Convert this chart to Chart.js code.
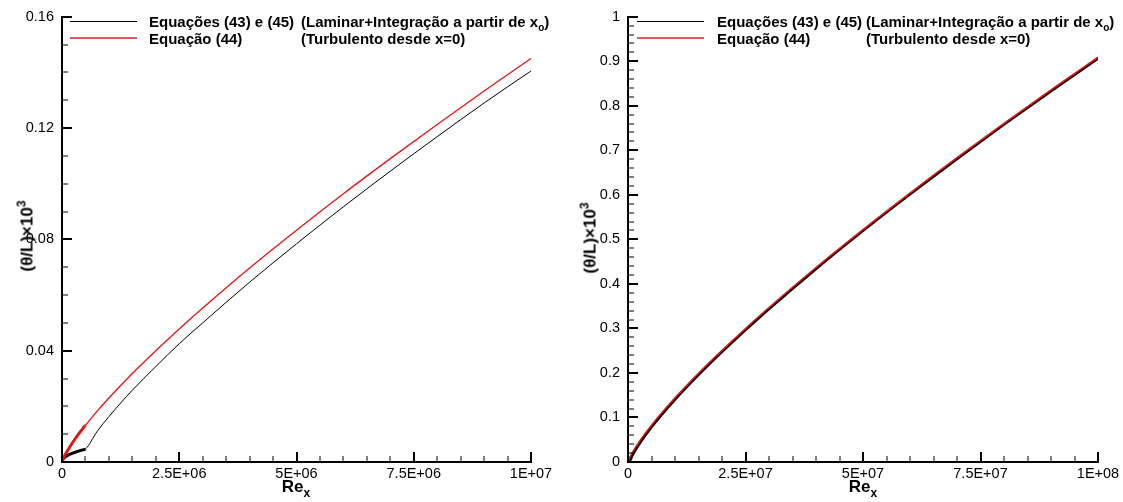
<!DOCTYPE html>
<html>
<head>
<meta charset="utf-8">
<script src="https://cdn.jsdelivr.net/npm/chart.js@4.4.1/dist/chart.umd.min.js"></script>
<style>
  body { margin: 0; background: #fff; font-family: "Liberation Sans", Arial, sans-serif; }
  #wrap { position: relative; width: 1123px; height: 502px; overflow: hidden; }
  canvas { position: absolute; top: 0; }
  .legend { position: absolute; font-weight: bold; font-size: 15px; color: #000; white-space: nowrap; line-height: 17px; }
  .swatch { position: absolute; height: 0; }
  .xtitle { position: absolute; font-weight: bold; font-size: 17px; transform: translateX(-50%); }
  .xtitle sub { font-size: 12px; vertical-align: -5px; }
  .ytitle { position: absolute; font-weight: bold; font-size: 17px; white-space: nowrap; transform: translate(-50%, -50%) rotate(-90deg); }
  .ytitle sup { font-size: 12px; vertical-align: 7px; }
</style>
</head>
<body>
<div id="wrap">
  <canvas id="leftChart" width="561" height="502" style="left:0"></canvas>
  <canvas id="rightChart" width="562" height="502" style="left:561px"></canvas>

  <!-- legends -->
  <div class="swatch" style="left:70px;top:21px;width:67px;border-top:1px solid #000"></div>
  <div class="swatch" style="left:70px;top:37px;width:67px;border-top:2px solid #e85858"></div>
  <div class="legend" style="left:149px;top:13px">Equações (43) e (45)</div>
  <div class="legend" style="left:301px;top:13px">(Laminar+Integração a partir de x<sub style="font-size:10px">o</sub>)</div>
  <div class="legend" style="left:149px;top:30px">Equação (44)</div>
  <div class="legend" style="left:301px;top:30px">(Turbulento desde x=0)</div>

  <div class="swatch" style="left:637px;top:21px;width:67px;border-top:1px solid #000"></div>
  <div class="swatch" style="left:637px;top:37px;width:67px;border-top:2px solid #e85858"></div>
  <div class="legend" style="left:717px;top:13px">Equações (43) e (45)</div>
  <div class="legend" style="left:866px;top:13px">(Laminar+Integração a partir de x<sub style="font-size:10px">o</sub>)</div>
  <div class="legend" style="left:717px;top:30px">Equação (44)</div>
  <div class="legend" style="left:866px;top:30px">(Turbulento desde x=0)</div>

  <!-- axis titles -->
  <div class="xtitle" style="left:296px;top:477px">Re<sub>x</sub></div>
  <div class="xtitle" style="left:863px;top:477px">Re<sub>x</sub></div>
  <div class="ytitle" style="left:26px;top:236px">(θ/L)×10<sup>3</sup></div>
  <div class="ytitle" style="left:589px;top:238px">(θ/L)×10<sup>3</sup></div>
</div>

<script>
// ---- data ----
// left panel: Re_x up to 1E+07
const leftTurbRe = [0, 5e4, 1e5, 2e5, 3e5, 4e5, 5e5, 7.5e5, 1e6, 1.5e6, 2e6, 2.5e6, 3e6, 4e6, 5e6, 6e6, 7e6, 8e6, 9e6, 1e7];
const leftTurb = [0, 0.0021, 0.0036, 0.0063, 0.0088, 0.0111, 0.0132, 0.0183, 0.0230, 0.0318, 0.0400, 0.0478, 0.0553, 0.0697, 0.0833, 0.0964, 0.1090, 0.1213, 0.1333, 0.1450];
const leftLamRe = [0, 2e4, 5e4, 1e5, 2e5, 3e5, 4e5, 5e5, 7.5e5, 1e6, 1.5e6, 2e6, 2.5e6, 3e6, 4e6, 5e6, 6e6, 7e6, 8e6, 9e6, 1e7];
const leftLam = [0, 0.0010, 0.0016, 0.0022, 0.0030, 0.0036, 0.0042, 0.0047, 0.0110, 0.0163, 0.0258, 0.0343, 0.0425, 0.0500, 0.0646, 0.0784, 0.0917, 0.1045, 0.1169, 0.1290, 0.1405];

// right panel: Re_x up to 1E+08
const rightTurbRe = [0, 5e5, 1e6, 2.5e6, 5e6, 1e7, 1.5e7, 2e7, 2.5e7, 3e7, 4e7, 5e7, 6e7, 7e7, 8e7, 9e7, 1e8];
const rightTurb = [0, 0.0131, 0.0228, 0.0475, 0.0827, 0.1441, 0.1993, 0.2508, 0.2999, 0.3470, 0.4367, 0.5220, 0.6040, 0.6834, 0.7604, 0.8356, 0.9090];
const rightLamRe = [0, 1e5, 5e5, 1e6, 2.5e6, 5e6, 1e7, 1.5e7, 2e7, 2.5e7, 3e7, 4e7, 5e7, 6e7, 7e7, 8e7, 9e7, 1e8];
const rightLam = [0, 0.0021, 0.0047, 0.0159, 0.0419, 0.0779, 0.1399, 0.1954, 0.2472, 0.2963, 0.3436, 0.4336, 0.5191, 0.6011, 0.6806, 0.7577, 0.8328, 0.9060];

// tick values / labels
const leftXTicks = [0, 2.5e6, 5e6, 7.5e6, 1e7];
const leftXLabels = ["0", "2.5E+06", "5E+06", "7.5E+06", "1E+07"];
const leftYTicks = [0, 0.04, 0.08, 0.12, 0.16];
const leftYLabels = ["0", "0.04", "0.08", "0.12", "0.16"];
const rightXTicks = [0, 2.5e7, 5e7, 7.5e7, 1e8];
const rightXLabels = ["0", "2.5E+07", "5E+07", "7.5E+07", "1E+08"];
const rightYTicks = [0, 0.1, 0.2, 0.3, 0.4, 0.5, 0.6, 0.7, 0.8, 0.9, 1];
const rightYLabels = ["0", "0.1", "0.2", "0.3", "0.4", "0.5", "0.6", "0.7", "0.8", "0.9", "1"];

const RED = "#e31414";

Chart.defaults.font.family = '"Liberation Sans", Arial, sans-serif';
Chart.defaults.font.size = 14.5;
Chart.defaults.color = "#000";

function toPoints(xs, ys) {
  return xs.map((x, i) => ({ x: x, y: ys[i] }));
}

// inward tick marks on the left and bottom axes (majors long, minors short)
function tickMarks(p) {
  return {
    id: "tickMarks",
    afterDatasetsDraw(chart) {
      const { ctx, chartArea, scales } = chart;
      ctx.save();
      ctx.strokeStyle = "#000";
      const draw = (vals, len, width, isX) => {
        ctx.lineWidth = width;
        vals.forEach((v) => {
          ctx.beginPath();
          if (isX) {
            const px = Math.round(scales.x.getPixelForValue(v));
            ctx.moveTo(px, chartArea.bottom);
            ctx.lineTo(px, chartArea.bottom - len);
          } else {
            const py = Math.round(scales.y.getPixelForValue(v));
            ctx.moveTo(chartArea.left, py);
            ctx.lineTo(chartArea.left + len, py);
          }
          ctx.stroke();
        });
      };
      const minorX = [], minorY = [];
      const nx = Math.round(p.xMax / p.xStep), ny = Math.round(p.yMax / p.yStep);
      for (let i = 1; i <= nx; i++) minorX.push(i * p.xStep);
      for (let i = 1; i <= ny; i++) minorY.push(i * p.yStep);
      draw(minorX, 6, 1, true);
      draw(minorY, 6, 1, false);
      draw(p.xTicks, 10, 2, true);
      draw(p.yTicks, 10, 2, false);
      ctx.restore();
    },
  };
}

function makeChart(id, p) {
  const ctx = document.getElementById(id).getContext("2d");
  return new Chart(ctx, {
    type: "line",
    data: {
      datasets: [
        {
          data: toPoints(p.lamRe, p.lam),
          borderColor: "#000",
          borderWidth: p.blackWidth,
          order: 1,
          segment: {
            borderWidth: (c) => (c.p1.parsed.x <= p.thickTo ? 3 : p.blackWidth),
          },
        },
        {
          data: toPoints(p.turbRe, p.turb),
          borderColor: RED,
          borderWidth: p.redWidth,
          order: 0,
          segment: {
            borderWidth: (c) => (c.p1.parsed.x <= p.thickTo ? 3 : p.redWidth),
          },
        },
      ],
    },
    options: {
      responsive: false,
      animation: false,
      devicePixelRatio: 1,
      cubicInterpolationMode: "monotone",
      elements: { point: { radius: 0 } },
      layout: { padding: { top: 12, right: p.padRight, left: 0, bottom: 0 } },
      plugins: {
        legend: { display: false },
        tooltip: { enabled: false },
      },
      scales: {
        x: {
          type: "linear",
          min: 0,
          max: p.xMax,
          grid: { display: false, drawTicks: false },
          border: { display: true, color: "#000", width: 2 },
          afterBuildTicks: (s) => { s.ticks = p.xTicks.map((v) => ({ value: v })); },
          afterFit: (s) => { s.height = 40; },
          ticks: {
            padding: 3,
            maxRotation: 0,
            autoSkip: false,
            callback: (v, i) => p.xLabels[i],
          },
        },
        y: {
          type: "linear",
          min: 0,
          max: p.yMax,
          grid: { display: false, drawTicks: false },
          border: { display: true, color: "#000", width: 2 },
          afterBuildTicks: (s) => { s.ticks = p.yTicks.map((v) => ({ value: v })); },
          afterFit: (s) => { s.width = p.yWidth; },
          ticks: {
            padding: 8,
            autoSkip: false,
            callback: (v, i) => p.yLabels[i],
          },
        },
      },
    },
    plugins: [tickMarks(p)],
  });
}

makeChart("leftChart", {
  lamRe: leftLamRe, lam: leftLam, turbRe: leftTurbRe, turb: leftTurb,
  xTicks: leftXTicks, xLabels: leftXLabels, yTicks: leftYTicks, yLabels: leftYLabels,
  xMax: 1e7, yMax: 0.16, xStep: 5e5, yStep: 0.01,
  thickTo: 5e5, blackWidth: 1, redWidth: 1.3,
  yWidth: 62, padRight: 30,
});

makeChart("rightChart", {
  lamRe: rightLamRe, lam: rightLam, turbRe: rightTurbRe, turb: rightTurb,
  xTicks: rightXTicks, xLabels: rightXLabels, yTicks: rightYTicks, yLabels: rightYLabels,
  xMax: 1e8, yMax: 1, xStep: 5e6, yStep: 0.02,
  thickTo: 0, blackWidth: 2.5, redWidth: 1.5,
  yWidth: 67, padRight: 25,
});
</script>
</body>
</html>
